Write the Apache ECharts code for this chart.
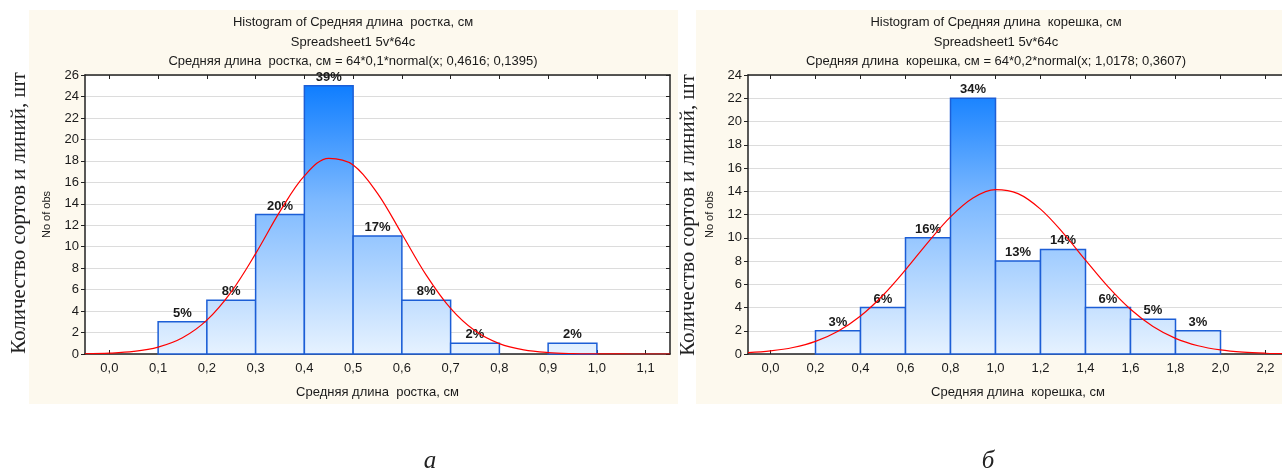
<!DOCTYPE html>
<html>
<head>
<meta charset="utf-8">
<script src="https://cdn.jsdelivr.net/npm/echarts@6/dist/echarts.min.js"></script>
<style>
  html, body { margin: 0; padding: 0; background: #ffffff; overflow: hidden; }
  #chart { width: 1300px; height: 470px; }
</style>
</head>
<body>
<div id="chart"></div>
<script>
// ---- Panel а: Средняя длина ростка ----
const binStartA = [0.1, 0.2, 0.3, 0.4, 0.5, 0.6, 0.7, 0.8, 0.9];
const binWidthA = 0.1;
const countsA = [3, 5, 13, 25, 11, 5, 1, 0, 1];
const xTicksA = [0, 0.1, 0.2, 0.3, 0.4, 0.5, 0.6, 0.7, 0.8, 0.9, 1.0, 1.1];
// fitted normal curve 64*0,1*normal(x; 0,4616; 0,1395), sampled points
const curveXA = [-0.05, 0, 0.05, 0.1, 0.15, 0.2, 0.25, 0.3, 0.35, 0.4, 0.45, 0.5, 0.55, 0.6, 0.65, 0.7, 0.75, 0.8, 0.85, 0.9, 0.95, 1.0, 1.05, 1.1, 1.15];
const curveYA = [0.022, 0.077, 0.236, 0.636, 1.51, 3.153, 5.792, 9.355, 13.288, 16.6, 18.237, 17.62, 14.971, 11.187, 7.352, 4.249, 2.159, 0.965, 0.38, 0.131, 0.04, 0.011, 0.003, 0.001, 0.0];

// ---- Panel б: Средняя длина корешка ----
const binStartB = [0.2, 0.4, 0.6, 0.8, 1.0, 1.2, 1.4, 1.6, 1.8];
const binWidthB = 0.2;
const countsB = [2, 4, 10, 22, 8, 9, 4, 3, 2];
const xTicksB = [0, 0.2, 0.4, 0.6, 0.8, 1.0, 1.2, 1.4, 1.6, 1.8, 2.0, 2.2];
// fitted normal curve 64*0,2*normal(x; 1,0178; 0,3607), sampled points
const curveXB = [-0.1, 0, 0.1, 0.2, 0.3, 0.4, 0.5, 0.6, 0.7, 0.8, 0.9, 1.0, 1.1, 1.2, 1.3, 1.4, 1.5, 1.6, 1.7, 1.8, 1.9, 2.0, 2.1, 2.2, 2.3];
const curveYB = [0.116, 0.264, 0.556, 1.083, 1.955, 3.265, 5.052, 7.238, 9.603, 11.798, 13.422, 14.14, 13.794, 12.461, 10.424, 8.076, 5.793, 3.848, 2.367, 1.348, 0.711, 0.347, 0.157, 0.066, 0.026];

const titlesA = [
  'Histogram of Средняя длина  ростка, см',
  'Spreadsheet1 5v*64c',
  'Средняя длина  ростка, см = 64*0,1*normal(x; 0,4616; 0,1395)'
];
const titlesB = [
  'Histogram of Средняя длина  корешка, см',
  'Spreadsheet1 5v*64c',
  'Средняя длина  корешка, см = 64*0,2*normal(x; 1,0178; 0,3607)'
];
const xNameA = 'Средняя длина  ростка, см';
const xNameB = 'Средняя длина  корешка, см';
const yName = 'No of obs';
const outerYName = 'Количество сортов и линий, шт';
const panelLetters = ['а', 'б'];

const SANS = '"Liberation Sans", Arial, sans-serif';
const SERIF = '"Liberation Serif", "Times New Roman", serif';
const INK = '#1a1a1a';

// vertical blue fade shared by all bars (pixel space of the plot areas)
const barFill = {
  type: 'linear', x: 0, y: 75, x2: 0, y2: 354, global: true,
  colorStops: [
    { offset: 0, color: '#0578ff' },
    { offset: 0.45, color: '#7db9ff' },
    { offset: 1, color: '#e6f2ff' }
  ]
};

function binsData(starts, width, counts) {
  return starts.map((s, i) => [s, +(s + width).toFixed(2), counts[i]]);
}
function curveData(xs, ys) {
  return xs.map((x, i) => [x, ys[i]]);
}
function makeRender(total) {
  return function (params, api) {
    const x0 = api.value(0), x1 = api.value(1), n = api.value(2);
    if (!n) return null;
    const pTop = api.coord([x0, n]);
    const pBot = api.coord([x1, 0]);
    const pct = Math.round(n / total * 100) + '%';
    return {
      type: 'group',
      children: [
        {
          type: 'rect',
          shape: { x: pTop[0], y: pTop[1], width: pBot[0] - pTop[0], height: pBot[1] - pTop[1] },
          style: { fill: barFill, stroke: '#1c5ed6', lineWidth: 1.5 }
        },
        {
          type: 'text',
          x: (pTop[0] + pBot[0]) / 2,
          y: pTop[1] - 2,
          z2: 10,
          style: {
            text: pct, align: 'center', verticalAlign: 'bottom',
            font: 'bold 13px ' + SANS, fill: INK
          }
        }
      ]
    };
  };
}
const fmtComma = v => (Math.round(v * 10) / 10).toFixed(1).replace('.', ',');

function mainX(gridIndex, min, max, ticks, name) {
  return {
    type: 'value', gridIndex, min, max, position: 'bottom',
    name, nameLocation: 'middle', nameGap: 32,
    nameTextStyle: { fontFamily: SANS, fontSize: 13, color: INK },
    axisLine: { show: true, onZero: false, lineStyle: { color: '#222', width: 1.5 } },
    axisTick: { show: true, inside: true, length: 4, customValues: ticks, lineStyle: { color: '#222' } },
    axisLabel: { show: true, margin: 8, customValues: ticks, formatter: fmtComma, fontFamily: SANS, fontSize: 13, color: INK },
    splitLine: { show: false }
  };
}
function topX(gridIndex, min, max, ticks) {
  return {
    type: 'value', gridIndex, min, max, position: 'top',
    axisLine: { show: true, onZero: false, lineStyle: { color: '#222', width: 1.5 } },
    axisTick: { show: true, inside: true, length: 4, customValues: ticks, lineStyle: { color: '#222' } },
    axisLabel: { show: false },
    splitLine: { show: false }
  };
}
function mainY(gridIndex, max) {
  return {
    type: 'value', gridIndex, min: 0, max, interval: 2, position: 'left',
    name: yName, nameLocation: 'middle', nameGap: 33, nameRotate: 90,
    nameTextStyle: { fontFamily: SANS, fontSize: 11, color: INK },
    axisLine: { show: true, onZero: false, lineStyle: { color: '#222', width: 1.5 } },
    axisTick: { show: true, inside: false, length: 4, lineStyle: { color: '#222' } },
    axisLabel: { margin: 6, fontFamily: SANS, fontSize: 13, color: INK },
    splitLine: { show: true, lineStyle: { color: '#dcdcdc', width: 1.2 } }
  };
}
function rightY(gridIndex, max) {
  return {
    type: 'value', gridIndex, min: 0, max, interval: 2, position: 'right',
    axisLine: { show: true, onZero: false, lineStyle: { color: '#222', width: 1.5 } },
    axisTick: { show: true, inside: true, length: 4, lineStyle: { color: '#222' } },
    axisLabel: { show: false },
    splitLine: { show: false }
  };
}

function titleTexts(lines, cx) {
  const ys = [22, 42, 61];
  return lines.map((t, i) => ({
    type: 'text', x: cx, y: ys[i],
    style: { text: t, align: 'center', verticalAlign: 'middle', font: '13px ' + SANS, fill: INK }
  }));
}

const chart = echarts.init(document.getElementById('chart'), null, { renderer: 'canvas' });
chart.setOption({
  animation: false,
  backgroundColor: '#ffffff',
  grid: [
    { left: 85, top: 75, width: 585, height: 279, backgroundColor: '#ffffff', show: true, borderWidth: 0 },
    { left: 748, top: 75, width: 540, height: 279, backgroundColor: '#ffffff', show: true, borderWidth: 0 }
  ],
  xAxis: [
    mainX(0, -0.05, 1.15, xTicksA, xNameA),
    topX(0, -0.05, 1.15, xTicksA),
    mainX(1, -0.1, 2.3, xTicksB, xNameB),
    topX(1, -0.1, 2.3, xTicksB)
  ],
  yAxis: [
    mainY(0, 26),
    rightY(0, 26),
    mainY(1, 24),
    rightY(1, 24)
  ],
  graphic: [
    { type: 'rect', z: -10, shape: { x: 29, y: 10, width: 649, height: 394 }, style: { fill: '#fdf9ee' } },
    { type: 'rect', z: -10, shape: { x: 696, y: 10, width: 620, height: 394 }, style: { fill: '#fdf9ee' } },
    ...titleTexts(titlesA, 353),
    ...titleTexts(titlesB, 996),
    {
      type: 'text', x: 19, y: 213, rotation: Math.PI / 2,
      style: { text: outerYName, align: 'center', verticalAlign: 'middle', font: '21px ' + SERIF, fill: '#222' }
    },
    {
      type: 'text', x: 688, y: 215, rotation: Math.PI / 2,
      style: { text: outerYName, align: 'center', verticalAlign: 'middle', font: '21px ' + SERIF, fill: '#222' }
    },
    {
      type: 'text', x: 430, y: 461,
      style: { text: panelLetters[0], align: 'center', verticalAlign: 'middle', font: 'italic 25px ' + SERIF, fill: '#222' }
    },
    {
      type: 'text', x: 988, y: 461,
      style: { text: panelLetters[1], align: 'center', verticalAlign: 'middle', font: 'italic 25px ' + SERIF, fill: '#222' }
    }
  ],
  series: [
    {
      type: 'custom', xAxisIndex: 0, yAxisIndex: 0, z: 2,
      renderItem: makeRender(countsA.reduce((a, b) => a + b, 0)),
      data: binsData(binStartA, binWidthA, countsA)
    },
    {
      type: 'line', xAxisIndex: 0, yAxisIndex: 0, z: 5,
      data: curveData(curveXA, curveYA), smooth: 0.35, showSymbol: false, symbol: 'none',
      lineStyle: { color: '#ff0000', width: 1.2 }, clip: true
    },
    {
      type: 'custom', xAxisIndex: 2, yAxisIndex: 2, z: 2,
      renderItem: makeRender(countsB.reduce((a, b) => a + b, 0)),
      data: binsData(binStartB, binWidthB, countsB)
    },
    {
      type: 'line', xAxisIndex: 2, yAxisIndex: 2, z: 5,
      data: curveData(curveXB, curveYB), smooth: 0.35, showSymbol: false, symbol: 'none',
      lineStyle: { color: '#ff0000', width: 1.2 }, clip: true
    }
  ]
});
</script>
</body>
</html>
